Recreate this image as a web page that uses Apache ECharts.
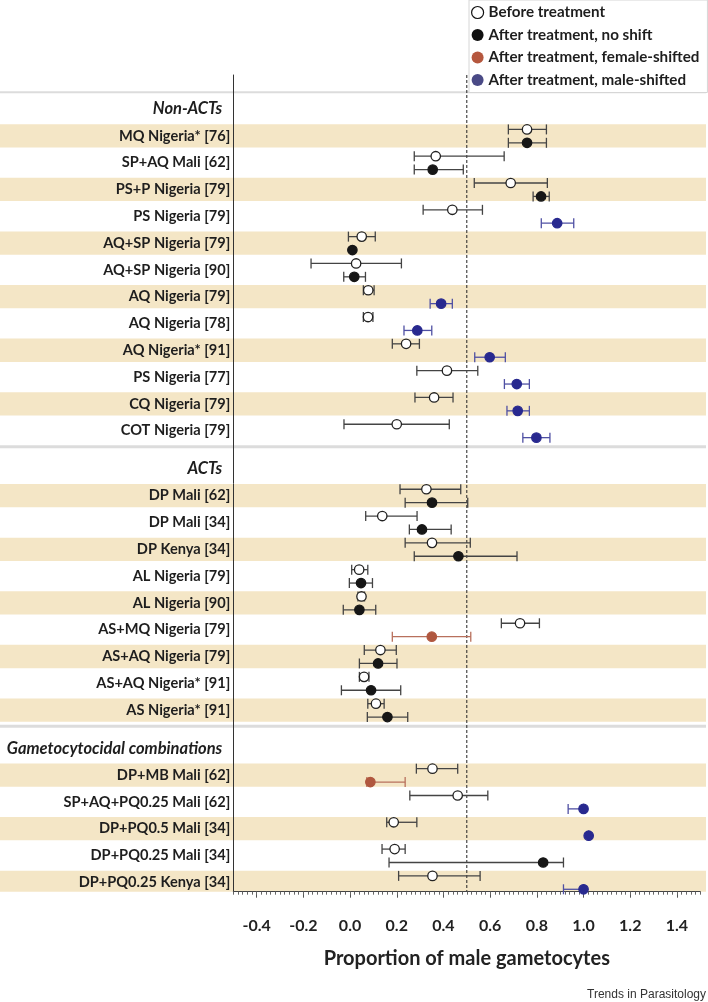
<!DOCTYPE html>
<html><head><meta charset="utf-8">
<script src="https://cdn.jsdelivr.net/npm/echarts@6/dist/echarts.min.js"></script>
<style>html,body{margin:0;padding:0;background:#fff}#c{width:708px;height:1002px}</style>
</head><body><div id="c"></div>
<script>
// ---------------- DATA ----------------
const sections = ['Non-ACTs', 'ACTs', 'Gametocytocidal combinations'];
const treatments = [
  'MQ Nigeria* [76]', 'SP+AQ Mali [62]', 'PS+P Nigeria [79]', 'PS Nigeria [79]',
  'AQ+SP Nigeria [79]', 'AQ+SP Nigeria [90]', 'AQ Nigeria [79]', 'AQ Nigeria [78]',
  'AQ Nigeria* [91]', 'PS Nigeria [77]', 'CQ Nigeria [79]', 'COT Nigeria [79]',
  'DP Mali [62]', 'DP Mali [34]', 'DP Kenya [34]', 'AL Nigeria [79]', 'AL Nigeria [90]',
  'AS+MQ Nigeria [79]', 'AS+AQ Nigeria [79]', 'AS+AQ Nigeria* [91]', 'AS Nigeria* [91]',
  'DP+MB Mali [62]', 'SP+AQ+PQ0.25 Mali [62]', 'DP+PQ0.5 Mali [34]', 'DP+PQ0.25 Mali [34]', 'DP+PQ0.25 Kenya [34]'
];
const treatmentSection = [0,0,0,0,0,0,0,0,0,0,0,0, 1,1,1,1,1,1,1,1,1, 2,2,2,2,2];
const beforeMean = [0.758, 0.367, 0.688, 0.438, 0.050, 0.026, 0.078, 0.077, 0.240, 0.415, 0.360, 0.200,
  0.327, 0.138, 0.351, 0.039, 0.049, 0.728, 0.130, 0.060, 0.111,
  0.353, 0.461, 0.187, 0.191, 0.353];
const beforeLow = [0.678, 0.275, 0.532, 0.313, -0.007, -0.167, 0.057, 0.057, 0.181, 0.286, 0.278, -0.026,
  0.214, 0.067, 0.236, 0.007, 0.034, 0.648, 0.061, 0.040, 0.076,
  0.284, 0.256, 0.157, 0.137, 0.208];
const beforeHigh = [0.841, 0.660, 0.845, 0.567, 0.108, 0.220, 0.103, 0.098, 0.297, 0.547, 0.441, 0.425,
  0.474, 0.287, 0.515, 0.076, 0.062, 0.811, 0.198, 0.081, 0.146,
  0.461, 0.590, 0.286, 0.236, 0.557];
const afterMean = [0.758, 0.354, 0.818, 0.887, 0.010, 0.018, 0.390, 0.288, 0.598, 0.714, 0.718, 0.798,
  0.351, 0.308, 0.464, 0.047, 0.040, 0.350, 0.120, 0.090, 0.160,
  0.087, 1.000, 1.022, 0.827, 1.000];
const afterLow = [0.678, 0.275, 0.784, 0.819, 0.010, -0.027, 0.343, 0.231, 0.534, 0.661, 0.672, 0.740,
  0.236, 0.254, 0.275, -0.003, -0.029, 0.181, 0.040, -0.037, 0.074,
  0.072, 0.934, 1.022, 0.167, 0.914];
const afterHigh = [0.841, 0.485, 0.853, 0.958, 0.010, 0.066, 0.438, 0.350, 0.665, 0.768, 0.768, 0.856,
  0.504, 0.433, 0.715, 0.096, 0.110, 0.517, 0.201, 0.217, 0.247,
  0.236, 1.000, 1.022, 0.914, 1.000];
const afterShift = ['none','none','none','male','none','none','male','male','male','male','male','male',
  'none','none','none','none','none','female','none','none','none',
  'female','male','male','none','male'];
const xTickLabels = ['-0.4','-0.2','0.0','0.2','0.4','0.6','0.8','1.0','1.2','1.4'];
const legendNames = ['Before treatment', 'After treatment, no shift', 'After treatment, female-shifted', 'After treatment, male-shifted'];
const xAxisTitle = 'Proportion of male gametocytes';
const sourceNote = 'Trends in Parasitology';

// ---------------- LAYOUT ----------------
const FONT = 'Lato, "Open Sans", sans-serif';
const SECTION_GAP = 0.425;
const Y_MIN = -1.27, Y_MAX = 29.2;
const BAND = '#f4e6c6';
const rows = [];
const treatPos = [];
let idx = 0;
sections.forEach((s, si) => {
  rows.push({ label: s, header: true, pos: idx + SECTION_GAP * si, section: si });
  idx++;
  let local = 1;
  treatments.forEach((t, ti) => {
    if (treatmentSection[ti] === si) {
      const pos = idx + SECTION_GAP * si;
      rows.push({ label: t, header: false, pos: pos, band: local % 2 === 1, section: si });
      treatPos[ti] = pos;
      idx++; local++;
    }
  });
});
const xTickValues = xTickLabels.map(Number);
const minorTickValues = [];
for (let k = 0; k <= 100; k++) minorTickValues.push(Math.round((-0.5 + k * 0.02) * 1000) / 1000);

function errRender(offset, fill, stroke, barColor) {
  return function (params, api) {
    const y = api.value(1) + offset;
    const p = api.coord([api.value(0), y]);
    const l = api.coord([api.value(2), y]);
    const h = api.coord([api.value(3), y]);
    const cap = 5;
    const ls = { stroke: barColor, lineWidth: 1.3 };
    return { type: 'group', children: [
      { type: 'line', shape: { x1: l[0], y1: p[1], x2: h[0], y2: p[1] }, style: ls },
      { type: 'line', shape: { x1: l[0], y1: p[1] - cap, x2: l[0], y2: p[1] + cap }, style: ls },
      { type: 'line', shape: { x1: h[0], y1: p[1] - cap, x2: h[0], y2: p[1] + cap }, style: ls },
      { type: 'circle', shape: { cx: p[0], cy: p[1], r: 4.7 }, style: { fill: fill, stroke: stroke, lineWidth: 1.3 } }
    ] };
  };
}

function frameRender(params, api) {
  const W = api.getWidth();
  const unit = api.size([0, 1])[1];
  const bottom = api.coord([0, Y_MAX])[1];
  const top = api.coord([0, Y_MIN])[1];
  const ch = [];
  rows.forEach(r => {
    if (r.band) {
      const c = api.coord([0, r.pos])[1];
      let t = c - unit * 0.435, b = Math.min(c + unit * 0.435, bottom);
      ch.push({ type: 'rect', shape: { x: 0, y: t, width: W - 2, height: b - t }, style: { fill: BAND } });
    }
  });
  const boxTop = api.coord([0, rows[0].pos - 0.63])[1];
  ch.push({ type: 'line', shape: { x1: 0, y1: boxTop, x2: W - 2, y2: boxTop }, style: { stroke: '#dcdcdc', lineWidth: 2 } });
  for (let i = 1; i < rows.length; i++) {
    if (rows[i].header) {
      const yy = api.coord([0, rows[i - 1].pos + 0.6])[1];
      ch.push({ type: 'line', shape: { x1: 0, y1: yy, x2: W - 2, y2: yy }, style: { stroke: '#dcdcdc', lineWidth: 3 } });
    }
  }
  const xd = api.coord([0.5, 0])[0];
  ch.push({ type: 'line', shape: { x1: xd, y1: top, x2: xd, y2: bottom }, style: { stroke: '#222', lineWidth: 1, lineDash: [3, 2] } });
  return { type: 'group', children: ch };
}

const beforeData = treatments.map((t, i) => [beforeMean[i], treatPos[i], beforeLow[i], beforeHigh[i]]);
function afterData(kind) {
  const out = [];
  treatments.forEach((t, i) => { if (afterShift[i] === kind) out.push([afterMean[i], treatPos[i], afterLow[i], afterHigh[i]]); });
  return out;
}

const chart = echarts.init(document.getElementById('c'), null, { renderer: 'canvas' });
chart.setOption({
  animation: false,
  backgroundColor: '#fff',
  grid: { left: 233.3, right: 7.7, top: 75, bottom: 110.3, containLabel: false },
  legend: {
    orient: 'vertical', left: 469, top: 0, itemWidth: 12, itemHeight: 12, itemGap: 7.5,
    padding: [5, 8, 5, 2], borderColor: '#d6d6d6', borderWidth: 1, backgroundColor: '#fff',
    selectedMode: false,
    textStyle: { fontFamily: FONT, fontWeight: 'bold', fontSize: 15.2, color: '#1e1e1e' },
    data: [
      { name: legendNames[0], icon: 'circle', itemStyle: { color: '#fff', borderColor: '#111', borderWidth: 1.2 } },
      { name: legendNames[1], icon: 'circle', itemStyle: { color: '#111' } },
      { name: legendNames[2], icon: 'circle', itemStyle: { color: '#b5573e' } },
      { name: legendNames[3], icon: 'circle', itemStyle: { color: '#4a4a86' } }
    ]
  },
  xAxis: [
    {
      type: 'value', min: -0.5, max: 1.5, position: 'bottom',
      axisLine: { show: true, onZero: false, lineStyle: { color: '#444', width: 1 } },
      axisTick: { show: true, customValues: xTickValues, length: 6, lineStyle: { color: '#555' } },
      axisLabel: {
        customValues: xTickValues, margin: 26,
        fontFamily: FONT, fontWeight: 'bold', fontSize: 16, color: '#222',
        formatter: v => { const i = xTickValues.findIndex(t => Math.abs(t - v) < 1e-6); return i >= 0 ? xTickLabels[i] : ''; }
      },
      splitLine: { show: false },
      name: xAxisTitle, nameLocation: 'middle', nameGap: 57,
      nameTextStyle: { fontFamily: FONT, fontWeight: 'bold', fontSize: 20, color: '#222' }
    },
    {
      type: 'value', min: -0.5, max: 1.5, position: 'bottom',
      axisLine: { show: false, onZero: false },
      axisTick: { show: true, customValues: minorTickValues, length: 3, lineStyle: { color: '#666' } },
      axisLabel: { show: false }, splitLine: { show: false }
    }
  ],
  yAxis: {
    type: 'value', inverse: true, min: Y_MIN, max: Y_MAX,
    axisLine: { show: true, onZero: false, lineStyle: { color: '#333', width: 1 } },
    axisTick: { show: false }, splitLine: { show: false },
    axisLabel: {
      customValues: rows.map(r => r.pos), margin: 3,
      formatter: v => {
        let best = rows[0], d = 1e9;
        rows.forEach(r => { const dd = Math.abs(r.pos - v); if (dd < d) { d = dd; best = r; } });
        return best.header ? '{h|' + best.label + '}' : '{n|' + best.label + '}';
      },
      rich: {
        h: { fontFamily: FONT, fontWeight: 'bold', fontStyle: 'italic', fontSize: 16.5, color: '#1e1e1e', padding: [0, 8, 0, 0] },
        n: { fontFamily: FONT, fontWeight: 'bold', fontSize: 14.6, color: '#1e1e1e' }
      }
    }
  },
  graphic: [
    { type: 'text', right: 2, top: 989, style: { text: sourceNote, font: '12px "Liberation Sans Narrow", "Liberation Sans", sans-serif', fill: '#333' } }
  ],
  series: [
    { type: 'custom', name: 'frame', z: -1, clip: false, silent: true, renderItem: frameRender, data: [[0, 0]] },
    { type: 'custom', name: legendNames[0], z: 3, itemStyle: { color: '#fff', borderColor: '#111' },
      renderItem: errRender(-0.24, '#fff', '#222', '#444'), data: beforeData, encode: { x: 0, y: 1 } },
    { type: 'custom', name: legendNames[1], z: 4, itemStyle: { color: '#111' },
      renderItem: errRender(0.26, '#161616', '#161616', '#444'), data: afterData('none'), encode: { x: 0, y: 1 } },
    { type: 'custom', name: legendNames[2], z: 4, itemStyle: { color: '#b5573e' },
      renderItem: errRender(0.26, '#b0573f', '#b0573f', '#b8705c'), data: afterData('female'), encode: { x: 0, y: 1 } },
    { type: 'custom', name: legendNames[3], z: 4, itemStyle: { color: '#4a4a86' },
      renderItem: errRender(0.26, '#28298f', '#28298f', '#4f50a3'), data: afterData('male'), encode: { x: 0, y: 1 } }
  ]
});
</script>
</body></html>
